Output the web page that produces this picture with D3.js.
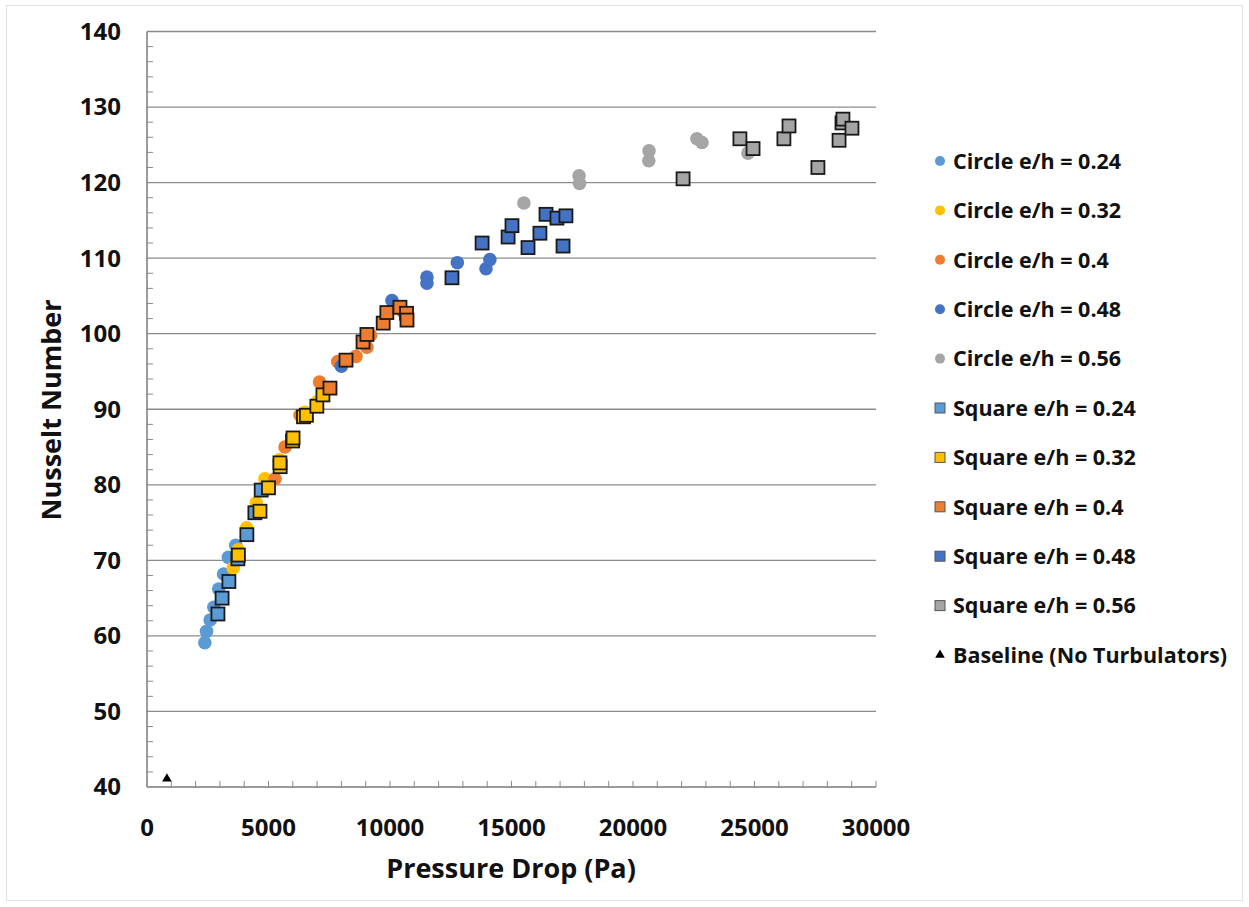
<!DOCTYPE html>
<html>
<head>
<meta charset="utf-8">
<title>Nusselt Number vs Pressure Drop</title>
<script src="https://cdn.jsdelivr.net/npm/d3@7"></script>
<style>
body { margin: 0; background: #fff; }
text { font-family: "Open Sans", "DejaVu Sans", sans-serif; font-weight: bold; fill: #111; }
</style>
</head>
<body>
<div id="chart"></div>
<script>
// data: [pressure drop (Pa), Nusselt number]
var circle024 = [[2380,59.1],[2450,60.6],[2600,62.1],[2750,63.8],[2950,66.2],[3150,68.2],[3350,70.4],[3650,72.0],[4450,76.3]];
var circle032 = [[3550,69.0],[3750,71.4],[4100,74.3],[4500,77.6],[4850,80.8],[5450,83.3],[6500,89.6],[7000,91.0]];
var circle040 = [[5270,80.8],[5680,85.0],[6300,89.2],[7100,93.6],[7850,96.3],[8600,97.0],[9050,98.2],[9200,99.8],[10500,103.0]];
var circle048 = [[8000,95.7],[10080,104.4],[11520,107.5],[11520,106.7],[12770,109.4],[13950,108.6],[14110,109.8]];
var circle056 = [[15510,117.3],[17780,120.9],[17800,119.9],[20660,124.2],[20650,122.9],[22630,125.8],[22840,125.3],[24730,123.9]];
var square024 = [[2920,62.9],[3090,65.0],[3370,67.2],[3740,70.2],[4110,73.4],[4440,76.3],[4700,79.3]];
var square032 = [[3760,70.7],[4650,76.5],[5000,79.6],[5480,82.4],[5470,82.9],[5990,85.8],[6010,86.2],[6440,89.0],[6560,89.2],[6990,90.4],[7240,91.9]];
var square040 = [[7530,92.8],[8190,96.5],[8890,98.9],[9050,99.9],[9720,101.4],[9870,102.8],[10410,103.5],[10680,102.7],[10700,101.8]];
var square048 = [[12550,107.4],[13790,112.0],[14860,112.8],[15020,114.3],[15680,111.4],[16170,113.3],[16420,115.8],[16870,115.3],[17240,115.6],[17120,111.6]];
var square056 = [[22060,120.5],[24400,125.8],[24940,124.5],[26210,125.8],[26420,127.5],[27610,122.0],[28480,125.6],[28600,127.9],[28640,128.4],[29010,127.2]];
var baseline = [[820,41.1]];

var seriesNames = ["Circle e/h = 0.24","Circle e/h = 0.32","Circle e/h = 0.4","Circle e/h = 0.48","Circle e/h = 0.56",
                   "Square e/h = 0.24","Square e/h = 0.32","Square e/h = 0.4","Square e/h = 0.48","Square e/h = 0.56",
                   "Baseline (No Turbulators)"];
var seriesData = [circle024, circle032, circle040, circle048, circle056,
                  square024, square032, square040, square048, square056, baseline];
var seriesShape = ["circle","circle","circle","circle","circle","square","square","square","square","square","triangle"];
var colors = ["#5B9BD5","#FFC000","#ED7D31","#4472C4","#A5A5A5","#5B9BD5","#FFC000","#ED7D31","#4472C4","#A5A5A5","#000000"];

var xTicks = [0,5000,10000,15000,20000,25000,30000];
var yTicks = [40,50,60,70,80,90,100,110,120,130,140];

var W = 1249, H = 907;
var svg = d3.select("#chart").append("svg").attr("width", W).attr("height", H);

// outer frame
svg.append("rect").attr("x", 6.5).attr("y", 5.5).attr("width", W - 13).attr("height", H - 12)
   .attr("fill", "none").attr("stroke", "#e2e2e2");

var x = d3.scaleLinear().domain([0, 30000]).range([147, 876]);
var y = d3.scaleLinear().domain([40, 140]).range([787, 31.5]);

// gridlines
svg.append("g").selectAll("line").data(yTicks.slice(1)).enter().append("line")
   .attr("x1", x(0)).attr("x2", x(30000))
   .attr("y1", function(d) { return y(d); }).attr("y2", function(d) { return y(d); })
   .attr("stroke", "#8c8c8c").attr("stroke-width", 1.3);

// minor ticks (inside)
svg.append("g").selectAll("line").data(d3.range(42, 140, 2).filter(function(d) { return d % 10 != 0; }))
   .enter().append("line")
   .attr("x1", x(0)).attr("x2", x(0) + 6)
   .attr("y1", function(d) { return y(d); }).attr("y2", function(d) { return y(d); })
   .attr("stroke", "#8c8c8c").attr("stroke-width", 1);
svg.append("g").selectAll("line").data(d3.range(1000, 30001, 1000)).enter().append("line")
   .attr("x1", function(d) { return x(d); }).attr("x2", function(d) { return x(d); })
   .attr("y1", y(40)).attr("y2", y(40) - 6)
   .attr("stroke", "#8c8c8c").attr("stroke-width", 1);

// axis lines
svg.append("line").attr("x1", x(0)).attr("x2", x(0)).attr("y1", y(40)).attr("y2", y(140))
   .attr("stroke", "#7a7a7a").attr("stroke-width", 1.5);
svg.append("line").attr("x1", x(0)).attr("x2", x(30000)).attr("y1", y(40)).attr("y2", y(40))
   .attr("stroke", "#7a7a7a").attr("stroke-width", 1.5);

// tick labels
svg.append("g").selectAll("text").data(yTicks).enter().append("text")
   .attr("x", 121).attr("y", function(d) { return y(d); }).attr("dy", "0.35em")
   .attr("text-anchor", "end").style("font-size", "24px").text(function(d) { return d; });
svg.append("g").selectAll("text").data(xTicks).enter().append("text")
   .attr("x", function(d) { return x(d); }).attr("y", 836)
   .attr("text-anchor", "middle").style("font-size", "24px").text(function(d) { return d; });

// axis titles
svg.append("text").attr("transform", "translate(61,410) rotate(-90)")
   .attr("text-anchor", "middle").style("font-size", "27px").text("Nusselt Number");
svg.append("text").attr("x", 511).attr("y", 878)
   .attr("text-anchor", "middle").style("font-size", "27px").text("Pressure Drop (Pa)");

var tri = d3.symbol().type(d3.symbolTriangle).size(40);

function drawMark(sel, shape, color, big) {
  if (shape == "circle") {
    sel.append("circle").attr("r", big ? 6.8 : 5).attr("fill", color);
  } else if (shape == "square") {
    var s = big ? 13 : 10;
    sel.append("rect").attr("x", -s / 2).attr("y", -s / 2).attr("width", s).attr("height", s)
       .attr("fill", color).attr("stroke", big ? "#1a1a1a" : "#555").attr("stroke-width", big ? 1.8 : 1);
  } else {
    sel.append("path").attr("d", tri).attr("fill", color);
  }
}

// points
seriesData.forEach(function(data, i) {
  var g = svg.append("g");
  g.selectAll("g").data(data).enter().append("g")
   .attr("transform", function(d) { return "translate(" + x(d[0]) + "," + y(d[1]) + ")"; })
   .each(function() { drawMark(d3.select(this), seriesShape[i], colors[i], true); });
});

// legend
var legend = svg.append("g").selectAll("g").data(seriesNames).enter().append("g")
   .attr("transform", function(d, i) { return "translate(940," + (161 + i * 49.4) + ")"; });
legend.each(function(d, i) { drawMark(d3.select(this), seriesShape[i], colors[i], false); });
legend.append("text").attr("x", 13).attr("dy", "0.36em").style("font-size", "21.5px").text(function(d) { return d; });
</script>
</body>
</html>
